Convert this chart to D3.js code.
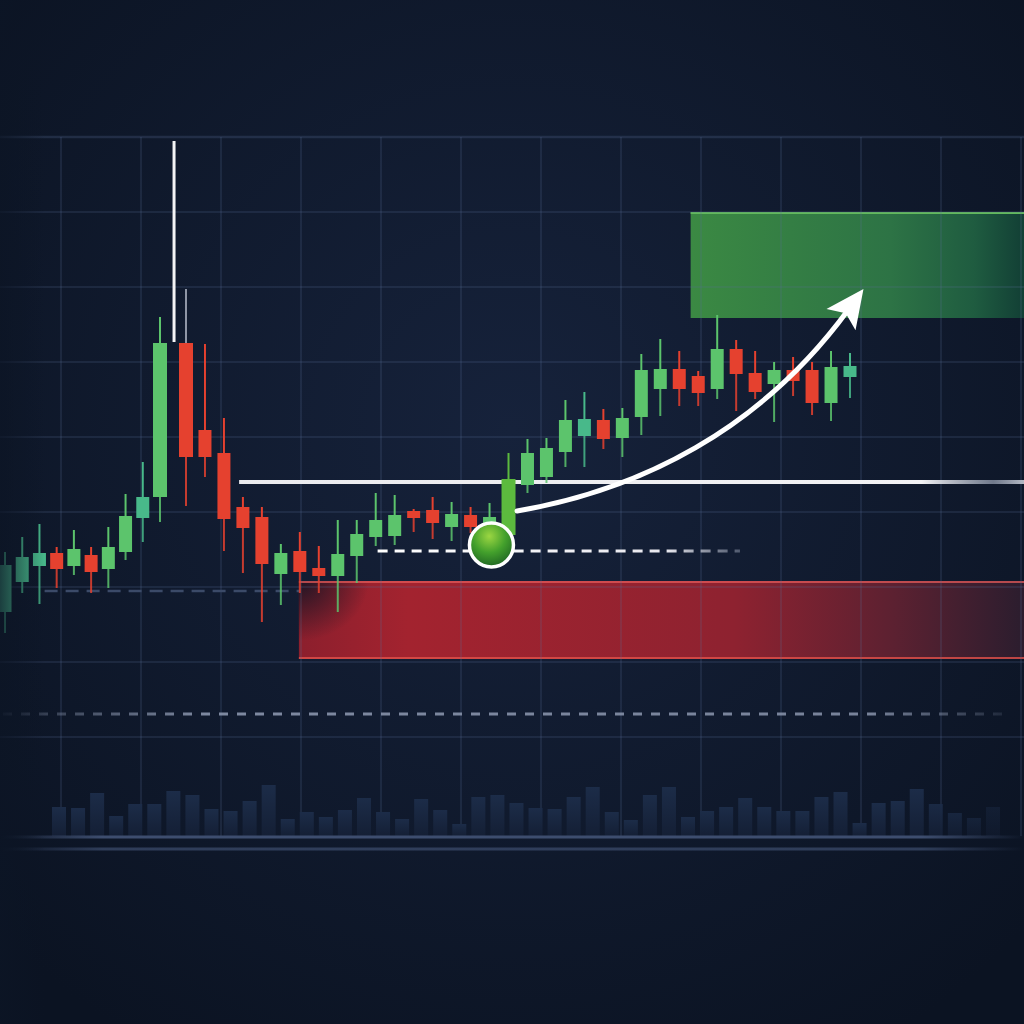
<!DOCTYPE html>
<html>
<head>
<meta charset="utf-8">
<script src="https://cdn.jsdelivr.net/npm/d3@7"></script>
<style>
  html, body { margin: 0; padding: 0; background: #0d1627; }
  svg { display: block; }
</style>
</head>
<body>
<svg width="1024" height="1024"></svg>
<script>
// candle data, one entry per bar (price units)
let opens  = [47, 54.5, 58.5, 61.75, 58.5, 61.25, 57.75, 62, 70.5, 75.75,
              114.25, 92.5, 86.75, 73.25, 70.75, 56.5, 62.25, 58, 56, 61,
              65.75, 66, 72.25, 72.5, 68.25, 71.25, 68.75, 66.25, 78.75, 80.75,
              87, 91, 95, 90.5, 95.75, 102.75, 107.75, 106, 102.75, 112.75,
              106.75, 104, 107.5, 107.5, 99.25, 105.75];
let closes = [58.75, 60.75, 61.75, 57.75, 62.75, 57, 63.25, 71, 75.75, 114.25,
              85.75, 85.75, 70.25, 68, 59, 61.75, 57, 56, 61.5, 66.5,
              70, 71.25, 70.5, 69.25, 71.5, 68.25, 70.75, 80.25, 86.75, 88,
              95, 95.25, 90.25, 95.5, 107.5, 107.75, 102.75, 101.75, 112.75, 106.5,
              102, 107.5, 104.75, 99.25, 108.25, 108.5];
let highs  = [62, 65.75, 69, 63.25, 67.5, 63.25, 68.25, 76.5, 84.5, 120.75,
              127.75, 114, 95.5, 75.75, 73.25, 64, 67, 63.5, 70, 70,
              76.75, 76.25, 72.75, 75.75, 74.5, 73.25, 74.25, 86.75, 90.25, 90.5,
              100, 102, 97.75, 98, 111.5, 115.25, 112.25, 107.25, 121.25, 115,
              112.25, 109.5, 110.75, 109.5, 112.25, 111.75];
let lows   = [41.75, 51.75, 49, 53, 56.25, 51.75, 53, 60, 64.5, 69.5,
              73.5, 80.75, 62.25, 56.75, 44.5, 48.75, 51.75, 51.75, 47, 54.25,
              63.5, 63.75, 67, 65.25, 64.75, 66.75, 67.5, 65, 76.75, 79.25,
              83.25, 83.25, 87.75, 85.75, 91.25, 96, 98.5, 98.5, 100.25, 97.25,
              100.25, 94.5, 101, 96.25, 94.75, 100.5];

let volumes = [29, 28, 43, 20, 32, 32, 45, 41, 27, 25,
               35, 51, 17, 24, 19, 26, 38, 24, 17, 37,
               26, 12, 39, 41, 33, 28, 27, 39, 49, 24,
               16, 41, 49, 19, 25, 29, 38, 29, 25, 25,
               39, 44, 13, 33, 35, 47, 32, 23, 18, 29];

// levels and annotations, [bar index, price]
let resistance = {price: 79.5, from: 12.8};
let entryLine = {price: 62.25, from: 20.1, to: 39.2};
let oldSupport = {price: 52.25, from: 2.3, to: 16};
let lowLine = {price: 21.5};
let spike = {at: 9.54, low: 114.5, high: 164.75};
let entryPoint = {at: 26.1, price: 63.75};
let stopZone = {from: 15.95, low: 35.25, high: 54.75};
let targetZone = {from: 36.6, low: 120.5, high: 147};
let arrowPts = [[27.45, 72.25], [33.93, 77.5], [40.26, 92.5], [44.9, 122.5]];

let tealBars = [0, 1, 2, 8, 31, 45];

window.onload = function() { drawChart(); };

function drawChart() {
  let svg = d3.select('svg');
  let W = 1024, H = 1024;
  let defs = svg.append('defs');

  let x = d3.scaleLinear().domain([0, 9, 10, 45]).range([5, 160, 186, 850]);
  let y = d3.scaleLinear().domain([0, 200]).range([800, 0]);
  let xv = d3.scaleLinear().domain([0, volumes.length - 1]).range([59, 993]);
  let yv = d3.scaleLinear().domain([0, 60]).range([836, 776]);

  // background
  let bg = defs.append('radialGradient').attr('id', 'bg')
    .attr('cx', '50%').attr('cy', '42%').attr('r', '70%');
  bg.append('stop').attr('offset', 0).attr('stop-color', '#16223b');
  bg.append('stop').attr('offset', 1).attr('stop-color', '#0b1322');
  svg.append('rect').attr('width', W).attr('height', H).attr('fill', 'url(#bg)');

  // zones
  let rg = defs.append('linearGradient').attr('id', 'redZone');
  [[0, '#8c1f2d'], [0.15, '#a3232f'], [0.6, '#8e2230'], [0.82, '#5c2131'], [1, '#2b1d2e']]
    .forEach(s => rg.append('stop').attr('offset', s[0]).attr('stop-color', s[1]));
  let gg = defs.append('linearGradient').attr('id', 'greenZone');
  [[0, '#3b8943'], [0.6, '#2d7345'], [0.85, '#1f5c40'], [1, '#123f35']]
    .forEach(s => gg.append('stop').attr('offset', s[0]).attr('stop-color', s[1]));
  let sh = defs.append('radialGradient').attr('id', 'zoneShade')
    .attr('cx', 0).attr('cy', 0).attr('r', 1);
  sh.append('stop').attr('offset', 0).attr('stop-color', '#0b1322').attr('stop-opacity', 0.85);
  sh.append('stop').attr('offset', 1).attr('stop-color', '#0b1322').attr('stop-opacity', 0);

  let rz = svg.append('g');
  rz.append('rect')
    .attr('x', x(stopZone.from)).attr('y', y(stopZone.high))
    .attr('width', W - x(stopZone.from)).attr('height', y(stopZone.low) - y(stopZone.high))
    .attr('fill', 'url(#redZone)');
  rz.append('rect')
    .attr('x', x(stopZone.from)).attr('y', y(stopZone.high))
    .attr('width', 70).attr('height', 60)
    .attr('fill', 'url(#zoneShade)');
  rz.append('line')
    .attr('x1', x(stopZone.from)).attr('x2', W)
    .attr('y1', y(stopZone.high) + 1).attr('y2', y(stopZone.high) + 1)
    .attr('stroke', '#e25a5a').attr('stroke-opacity', 0.75).attr('stroke-width', 2);
  rz.append('line')
    .attr('x1', x(stopZone.from)).attr('x2', W)
    .attr('y1', y(stopZone.low) - 1).attr('y2', y(stopZone.low) - 1)
    .attr('stroke', '#e0504a').attr('stroke-opacity', 0.8).attr('stroke-width', 2);

  let gz = svg.append('g');
  gz.append('rect')
    .attr('x', x(targetZone.from)).attr('y', y(targetZone.high))
    .attr('width', W - x(targetZone.from)).attr('height', y(targetZone.low) - y(targetZone.high))
    .attr('fill', 'url(#greenZone)');
  gz.append('line')
    .attr('x1', x(targetZone.from)).attr('x2', W)
    .attr('y1', y(targetZone.high) + 1).attr('y2', y(targetZone.high) + 1)
    .attr('stroke', '#62b95c').attr('stroke-width', 2);

  // grid
  let grid = svg.append('g').attr('stroke', '#5a6e96').attr('stroke-opacity', 0.26);
  grid.selectAll('.vline')
    .data(d3.range(61, 1030, 80))
    .enter().append('line')
    .attr('x1', d => d).attr('x2', d => d)
    .attr('y1', 137).attr('y2', 836)
    .attr('stroke-width', 1.5);
  grid.selectAll('.hline')
    .data(d3.range(137, 740, 75))
    .enter().append('line')
    .attr('x1', 0).attr('x2', W)
    .attr('y1', d => d).attr('y2', d => d)
    .attr('stroke-width', (d, i) => i == 0 ? 2.5 : 1.5);

  // volume
  let vg = defs.append('linearGradient').attr('id', 'vol').attr('x1', 0).attr('x2', 0).attr('y1', 0).attr('y2', 1);
  vg.append('stop').attr('offset', 0).attr('stop-color', '#1c2c48');
  vg.append('stop').attr('offset', 1).attr('stop-color', '#141f35');
  let fadeR = d3.scaleLinear().domain([920, 1000]).range([1, 0.35]).clamp(true);
  svg.append('g').selectAll('rect')
    .data(volumes)
    .enter().append('rect')
    .attr('x', (d, i) => xv(i) - 7)
    .attr('y', d => yv(d))
    .attr('width', 14)
    .attr('height', d => yv(0) - yv(d))
    .attr('fill', 'url(#vol)')
    .attr('opacity', (d, i) => fadeR(xv(i)));

  let baseG = defs.append('linearGradient').attr('id', 'baseFade').attr('gradientUnits', 'userSpaceOnUse')
    .attr('x1', 0).attr('x2', W).attr('y1', 0).attr('y2', 0);
  [[0, 0], [0.1, 1], [0.9, 1], [1, 0]].forEach(s =>
    baseG.append('stop').attr('offset', s[0]).attr('stop-color', '#3d4d6e').attr('stop-opacity', s[1]));
  svg.append('line').attr('x1', 0).attr('x2', W).attr('y1', 837).attr('y2', 837)
    .attr('stroke', 'url(#baseFade)').attr('stroke-width', 3);
  svg.append('line').attr('x1', 0).attr('x2', W).attr('y1', 849).attr('y2', 849)
    .attr('stroke', 'url(#baseFade)').attr('stroke-opacity', 0.7).attr('stroke-width', 3);

  // lower dashed line
  let dashG = defs.append('linearGradient').attr('id', 'dashFade').attr('gradientUnits', 'userSpaceOnUse')
    .attr('x1', 0).attr('x2', W).attr('y1', 0).attr('y2', 0);
  [[0, 0.15], [0.2, 0.9], [0.85, 0.85], [0.99, 0.1]].forEach(s =>
    dashG.append('stop').attr('offset', s[0]).attr('stop-color', '#8a95ad').attr('stop-opacity', s[1]));
  svg.append('line')
    .attr('x1', 3).attr('x2', 1010)
    .attr('y1', y(lowLine.price)).attr('y2', y(lowLine.price))
    .attr('stroke', 'url(#dashFade)').attr('stroke-width', 3)
    .attr('stroke-dasharray', '9 9');

  // old support dashed
  svg.append('line')
    .attr('x1', x(oldSupport.from)).attr('x2', x(oldSupport.to))
    .attr('y1', y(oldSupport.price)).attr('y2', y(oldSupport.price))
    .attr('stroke', '#3b4a68').attr('stroke-width', 2.5)
    .attr('stroke-dasharray', '13 8');

  // resistance line
  let resG = defs.append('linearGradient').attr('id', 'resFade').attr('gradientUnits', 'userSpaceOnUse')
    .attr('x1', 0).attr('x2', W).attr('y1', 0).attr('y2', 0);
  [[0, '#e8e8ec', 1], [0.9, '#f2f2f4', 1], [0.97, '#9aa3b5', 0.7], [1, '#c8ccd6', 0.9]].forEach(s =>
    resG.append('stop').attr('offset', s[0]).attr('stop-color', s[1]).attr('stop-opacity', s[2]));
  svg.append('line')
    .attr('x1', x(resistance.from)).attr('x2', W)
    .attr('y1', y(resistance.price)).attr('y2', y(resistance.price))
    .attr('stroke', 'url(#resFade)').attr('stroke-width', 4);

  // entry dashed
  let entG = defs.append('linearGradient').attr('id', 'entFade').attr('gradientUnits', 'userSpaceOnUse')
    .attr('x1', x(entryLine.from)).attr('x2', x(entryLine.to)).attr('y1', 0).attr('y2', 0);
  [[0, '#ffffff', 1], [0.8, '#e8e8ee', 1], [1, '#7c8599', 0.6]].forEach(s =>
    entG.append('stop').attr('offset', s[0]).attr('stop-color', s[1]).attr('stop-opacity', s[2]));
  svg.append('line')
    .attr('x1', x(entryLine.from)).attr('x2', x(entryLine.to))
    .attr('y1', y(entryLine.price)).attr('y2', y(entryLine.price))
    .attr('stroke', 'url(#entFade)').attr('stroke-width', 3)
    .attr('stroke-dasharray', '10 7');

  // spike
  svg.append('line')
    .attr('x1', x(spike.at)).attr('x2', x(spike.at))
    .attr('y1', y(spike.high)).attr('y2', y(spike.low))
    .attr('stroke', '#f4f4f6').attr('stroke-width', 3);

  // candles
  let candles = opens.map((o, i) => ({i: i, o: o, c: closes[i], h: highs[i], l: lows[i]}));
  let colorOf = d => {
    if (d.c < d.o) return '#e5412f';
    if (d.i == 27) return '#5cba3e';
    if (tealBars.indexOf(d.i) >= 0) return '#48b98a';
    return '#5cc46c';
  };
  let cg = svg.append('g').selectAll('.candle')
    .data(candles)
    .enter().append('g')
    .attr('class', 'candle');
  // upper and lower wick
  cg.append('line')
    .attr('x1', d => x(d.i)).attr('x2', d => x(d.i))
    .attr('y1', d => y(d.h)).attr('y2', d => y(Math.max(d.o, d.c)))
    .attr('stroke', d => d.i == 10 ? '#8f96a6' : colorOf(d)).attr('stroke-width', 2);
  cg.append('line')
    .attr('x1', d => x(d.i)).attr('x2', d => x(d.i))
    .attr('y1', d => y(Math.min(d.o, d.c))).attr('y2', d => y(d.l))
    .attr('stroke', colorOf).attr('stroke-opacity', 0.85).attr('stroke-width', 2);
  cg.append('rect')
    .attr('x', d => x(d.i) - (d.i == 9 || d.i == 10 || d.i == 27 ? 7 : 6.5))
    .attr('y', d => y(Math.max(d.o, d.c)))
    .attr('width', d => (d.i == 9 || d.i == 10 || d.i == 27 ? 14 : 13))
    .attr('height', d => Math.max(2, y(Math.min(d.o, d.c)) - y(Math.max(d.o, d.c))))
    .attr('fill', colorOf);

  // arrow
  let pts = arrowPts.map(p => [x(p[0]), y(p[1])]);
  let path = d3.path();
  path.moveTo(pts[0][0], pts[0][1]);
  path.bezierCurveTo(pts[1][0], pts[1][1], pts[2][0], pts[2][1], pts[3][0], pts[3][1]);
  svg.append('path')
    .attr('d', path.toString())
    .attr('fill', 'none').attr('stroke', '#ffffff')
    .attr('stroke-width', 5).attr('stroke-linecap', 'round');
  let ang = Math.atan2(pts[3][1] - pts[2][1], pts[3][0] - pts[2][0]) * 180 / Math.PI;
  svg.append('path')
    .attr('d', 'M 26,0 L -12,-18 L -4,0 L -12,18 Z')
    .attr('transform', `translate(${pts[3][0]},${pts[3][1]}) rotate(${ang})`)
    .attr('fill', '#ffffff');

  // entry point
  let cgrad = defs.append('radialGradient').attr('id', 'ball')
    .attr('cx', '45%').attr('cy', '30%').attr('r', '75%');
  cgrad.append('stop').attr('offset', 0).attr('stop-color', '#9bd642');
  cgrad.append('stop').attr('offset', 0.5).attr('stop-color', '#43a02c');
  cgrad.append('stop').attr('offset', 1).attr('stop-color', '#1b5e22');
  svg.append('circle')
    .attr('cx', x(entryPoint.at)).attr('cy', y(entryPoint.price))
    .attr('r', 22)
    .attr('fill', 'url(#ball)')
    .attr('stroke', '#ffffff').attr('stroke-width', 3.5);

  // left edge fade
  let lf = defs.append('linearGradient').attr('id', 'leftFade');
  lf.append('stop').attr('offset', 0).attr('stop-color', '#0c1525').attr('stop-opacity', 0.75);
  lf.append('stop').attr('offset', 1).attr('stop-color', '#0c1525').attr('stop-opacity', 0);
  svg.append('rect').attr('x', 0).attr('y', 0).attr('width', 45).attr('height', H)
    .attr('fill', 'url(#leftFade)');
}
</script>
</body>
</html>
